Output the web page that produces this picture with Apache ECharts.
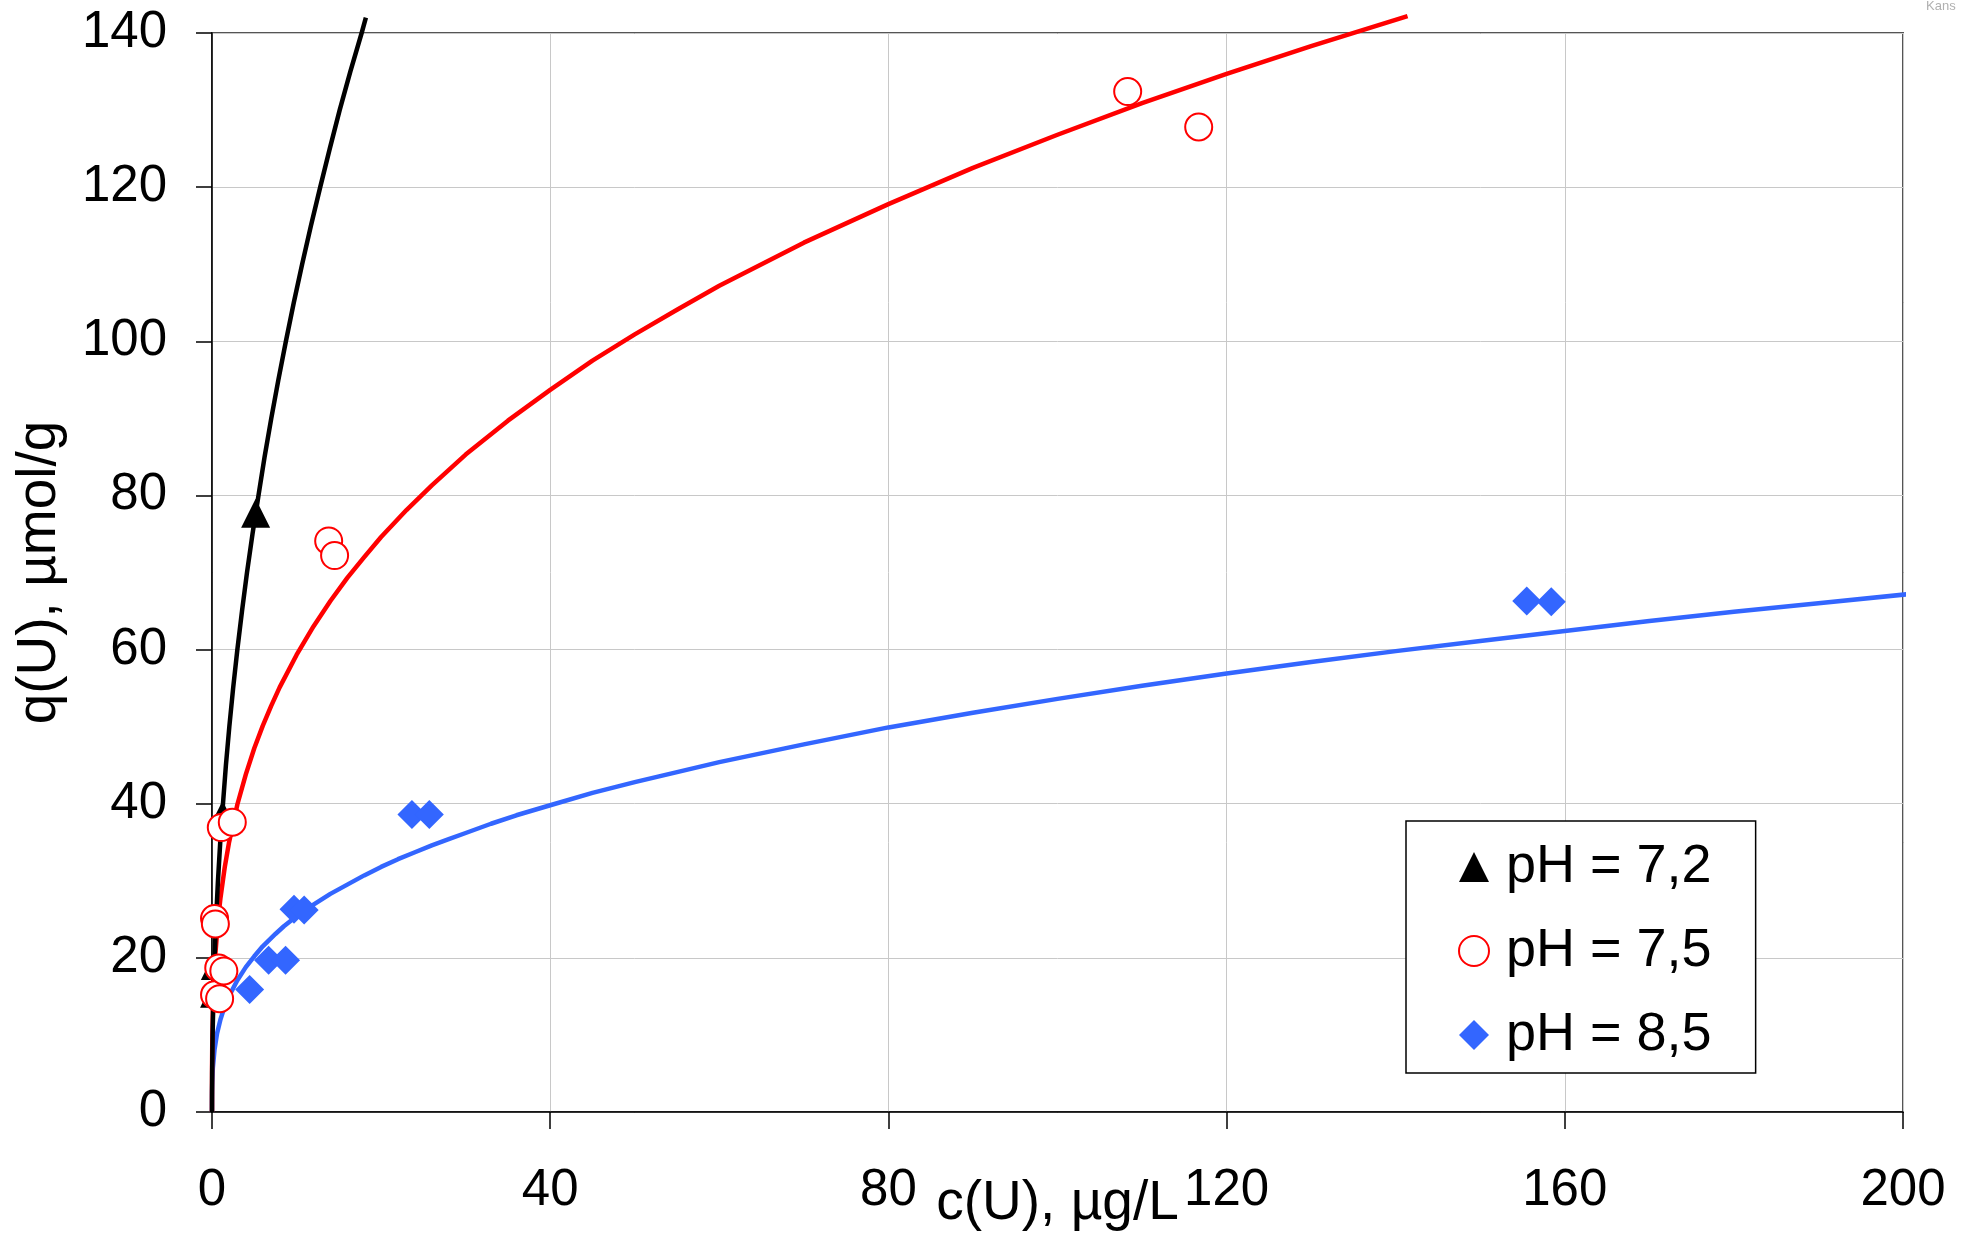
<!DOCTYPE html>
<html>
<head>
<meta charset="utf-8">
<script src="https://cdn.jsdelivr.net/npm/echarts@6/dist/echarts.min.js"></script>
<style>
html,body{margin:0;padding:0;background:#fff;overflow:hidden;}
#chart{width:1962px;height:1237px;}
</style>
</head>
<body>
<div id="chart"></div>
<script>
// ---- data ----
const seriesNames = ['pH = 7,2', 'pH = 7,5', 'pH = 8,5'];

// measured points c(U) [µg/L], q(U) [µmol/g]
const ph72C = [0.3, 0.4, 1.25, 5.16];
const ph72Q = [15.4, 19.0, 38.5, 77.7];

const ph75C = [0.3, 0.9, 0.8, 1.4, 0.3, 0.4, 1.1, 2.4, 13.8, 14.5, 108.3, 116.7];
const ph75Q = [15.2, 14.7, 18.7, 18.3, 25.1, 24.4, 36.9, 37.6, 74.1, 72.2, 132.4, 127.8];

const ph85C = [4.45, 6.7, 8.7, 9.7, 10.9, 23.65, 25.7, 155.5, 158.4];
const ph85Q = [15.9, 19.7, 19.7, 26.3, 26.2, 38.6, 38.6, 66.3, 66.2];

// fitted curves
const fit72C = [0, 0.003, 0.017, 0.071, 0.166, 0.302, 0.482, 0.705, 0.974, 1.3, 1.646, 2.05, 2.5, 3.0, 3.55, 4.14, 4.79, 5.5, 6.22, 7.01, 7.85, 8.74, 9.67, 10.66, 11.7, 12.8, 13.93, 15.1, 16.36, 17.7, 18.2];
const fit72Q = [0, 2, 5, 10, 15, 20, 25, 30, 35, 40, 45, 50, 55, 60, 65, 70, 75, 80, 85, 90, 95, 100, 105, 110, 115, 120, 125, 130, 135, 140, 142];

const fit75C = [0, 0.001, 0.01, 0.03, 0.1, 0.2, 0.4, 0.7, 1, 1.5, 2, 3, 4, 5, 6, 7, 8, 10, 12, 14, 16, 18, 20, 23, 26, 30, 35, 40, 45, 50, 55, 60, 70, 80, 90, 100, 110, 120, 130, 141.4];
const fit75Q = [0, 2.8, 6.1, 8.7, 13.0, 16.3, 20.5, 24.7, 27.75, 31.7, 34.9, 39.9, 43.8, 47.2, 50.1, 52.7, 55.1, 59.3, 63.0, 66.3, 69.3, 72.0, 74.6, 78.1, 81.3, 85.3, 89.7, 93.7, 97.5, 100.9, 104.1, 107.2, 112.8, 117.8, 122.5, 126.8, 130.9, 134.7, 138.3, 142.2];

const fit85C = [0, 0.001, 0.01, 0.03, 0.1, 0.3, 0.6, 1, 1.5, 2, 3, 4, 5, 6, 7.5, 8.5, 10, 12, 14, 16, 18, 20, 22, 24, 26, 28, 30, 33, 36, 40, 45, 50, 55, 60, 70, 80, 90, 100, 110, 120, 130, 140, 150, 160, 170, 180, 190, 201.6];
const fit85Q = [0, 1.3, 2.7, 3.8, 5.7, 8.1, 10.2, 12.0, 13.7, 15.0, 17.1, 18.8, 20.2, 21.5, 23.1, 24.1, 25.4, 26.9, 28.3, 29.5, 30.7, 31.8, 32.8, 33.7, 34.6, 35.4, 36.2, 37.4, 38.5, 39.8, 41.4, 42.8, 44.1, 45.4, 47.7, 49.9, 51.8, 53.6, 55.3, 56.9, 58.4, 59.8, 61.1, 62.4, 63.7, 64.9, 66.0, 67.3];

const xTicks = [0, 40, 80, 120, 160, 200];
const yTicks = [0, 20, 40, 60, 80, 100, 120, 140];

const xTitle = 'c(U), µg/L';
const yTitle = 'q(U), µmol/g';

function zip(a, b) { return a.map((v, i) => [v, b[i]]); }

const FONT = 'Liberation Sans, Arial, sans-serif';
const chart = echarts.init(document.getElementById('chart'), null, {renderer: 'canvas', width: 1962, height: 1237});

const curveStyle = (color) => ({
  type: 'line', showSymbol: false, symbol: 'none', clip: false, silent: true,
  smooth: false,
  lineStyle: {color: color, width: 4.5, join: 'round', cap: 'butt'}, itemStyle: {color: color}, z: 2
});

chart.setOption({
  animation: false,
  backgroundColor: '#ffffff',
  textStyle: {fontFamily: FONT, color: '#000'},
  grid: {left: 212, top: 33, width: 1691, height: 1079, show: true, borderColor: '#555', borderWidth: 2, backgroundColor: 'transparent'},
  xAxis: {
    type: 'value', min: xTicks[0], max: xTicks[xTicks.length - 1], interval: 40,
    name: xTitle, nameLocation: 'middle', nameGap: 64, nameMoveOverlap: false,
    nameTextStyle: {fontSize: 55, color: '#000', fontFamily: FONT},
    axisLine: {show: true, lineStyle: {color: '#000', width: 1.5}},
    axisTick: {show: true, inside: false, length: 17, lineStyle: {color: '#000', width: 1.5}},
    axisLabel: {fontSize: 51, color: '#000', margin: 53, fontFamily: FONT},
    splitLine: {show: true, lineStyle: {color: '#c8c8c8', width: 1}}
  },
  yAxis: {
    type: 'value', min: yTicks[0], max: yTicks[yTicks.length - 1], interval: 20,
    name: yTitle, nameLocation: 'middle', nameGap: 145, nameRotate: 90, nameMoveOverlap: false,
    nameTextStyle: {fontSize: 55, color: '#000', fontFamily: FONT},
    axisLine: {show: true, lineStyle: {color: '#000', width: 1.5}},
    axisTick: {show: true, inside: false, length: 16, lineStyle: {color: '#000', width: 1.5}},
    axisLabel: {fontSize: 51, color: '#000', margin: 45, fontFamily: FONT},
    splitLine: {show: true, lineStyle: {color: '#c8c8c8', width: 1}}
  },
  legend: {
    data: seriesNames,
    orient: 'vertical', left: 1406, top: 821,
    backgroundColor: '#fff', borderColor: '#000', borderWidth: 1.5,
    padding: [19, 44, 11, 52],
    itemGap: 30, itemWidth: 30, itemHeight: 30,
    textStyle: {fontSize: 54, color: '#000', fontFamily: FONT, padding: [0, 0, 0, 12]},
    selectedMode: false
  },
  graphic: [{
    type: 'text', left: 1926, top: 0, silent: true,
    style: {text: 'Kans', fontSize: 13, fill: '#b0b0b0', fontFamily: FONT}
  }],
  series: [
    Object.assign({name: 'fit 8,5', data: zip(fit85C, fit85Q)}, curveStyle('#3366ff')),
    Object.assign({name: 'fit 7,5', data: zip(fit75C, fit75Q)}, curveStyle('#ff0000')),
    Object.assign({name: 'fit 7,2', data: zip(fit72C, fit72Q)}, curveStyle('#000000')),
    {
      name: seriesNames[0], type: 'scatter', data: zip(ph72C, ph72Q),
      symbol: 'triangle', symbolSize: 29, itemStyle: {color: '#000000', opacity: 1}, z: 3
    },
    {
      name: seriesNames[1], type: 'scatter', data: zip(ph75C, ph75Q),
      symbol: 'emptyCircle', symbolSize: 27,
      itemStyle: {color: '#ff0000', borderColor: '#ff0000', borderWidth: 2.2, opacity: 1}, z: 4
    },
    {
      name: seriesNames[2], type: 'scatter', data: zip(ph85C, ph85Q),
      symbol: 'diamond', symbolSize: 29, itemStyle: {color: '#3366ff', opacity: 1}, z: 3
    }
  ]
});
</script>
</body>
</html>
